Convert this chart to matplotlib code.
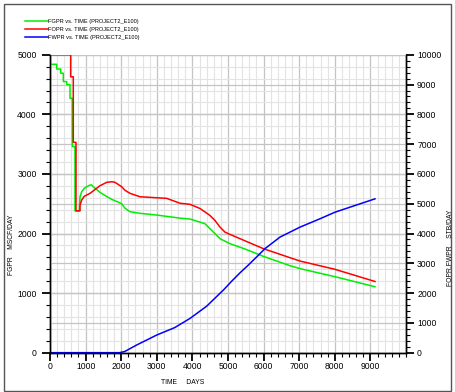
import matplotlib
matplotlib.use("Agg")
import matplotlib.pyplot as plt
from matplotlib.ticker import MultipleLocator
from matplotlib.patches import Rectangle

plt.rcParams['font.family'] = ['Liberation Sans', 'DejaVu Sans']

# FGPR (MSCF/DAY, eje izquierdo) - tiempos repetidos = escalones
fgpr_days = [0, 188, 188, 300, 300, 374, 374, 469, 469, 562, 562, 626, 626, 702, 702,
             823, 843, 890, 963, 1031, 1124, 1171, 1216, 1404, 1593, 1733, 2014, 2107,
             2247, 2528, 2997, 3652, 3933, 4213, 4354, 4494, 4635, 4775, 5056, 5500,
             5992, 6742, 7022, 8006, 9129]
fgpr = [4840, 4840, 4760, 4760, 4690, 4690, 4550, 4550, 4500, 4500, 4270, 4270, 3460, 3460, 2380,
        2380, 2617, 2701, 2760, 2785, 2814, 2814, 2785, 2691, 2620, 2574, 2500, 2423,
        2366, 2339, 2310, 2258, 2243, 2191, 2164, 2080, 1997, 1913, 1829, 1735,
        1617, 1460, 1411, 1275, 1107]

# FOPR (STB/DAY, eje derecho)
fopr_days = [0, 581, 581, 654, 654, 730, 730, 843, 843, 890, 963, 1124, 1404, 1593, 1742,
             1825, 2014, 2107, 2247, 2528, 2997, 3278, 3652, 3933, 4213, 4494, 4635, 4775,
             4916, 5056, 5992, 6742, 7022, 8006, 9129]
fopr = [10000, 10000, 9260, 9260, 7060, 7060, 4760, 4760, 4956, 5124, 5250, 5348, 5604, 5718, 5738,
        5718, 5570, 5450, 5348, 5234, 5200, 5180, 5016, 4980, 4840, 4606, 4438, 4214,
        4046, 3970, 3492, 3188, 3076, 2798, 2390]

# FWPR (STB/DAY, eje derecho)
fwpr_days = [0, 1950, 2100, 2435, 2997, 3500, 3933, 4400, 4868, 5104, 5337, 5570, 5851,
             6039, 6461, 7022, 7584, 8006, 8567, 9129]
fwpr = [0, 0, 40, 258, 592, 840, 1150, 1560, 2100, 2400, 2680, 2940, 3268,
        3492, 3880, 4214, 4495, 4716, 4940, 5164]

x_ticks = list(range(0, 10000, 1000))
left_ticks = list(range(0, 6000, 1000))
right_ticks = list(range(0, 11000, 1000))

fig = plt.figure(figsize=(4.55, 3.92), dpi=100)
ax = fig.add_axes([0.1099, 0.1003, 0.7824, 0.760])
ax2 = ax.twinx()

ax.set_xlim(0, 10000)
ax.set_ylim(0, 5000)
ax2.set_ylim(0, 10000)

ax.set_xticks(x_ticks)
ax.xaxis.set_minor_locator(MultipleLocator(200))
ax.set_yticks(left_ticks)
ax.yaxis.set_minor_locator(MultipleLocator(200))
ax2.set_yticks(right_ticks)
ax2.yaxis.set_minor_locator(MultipleLocator(200))

# rejilla
ax.grid(which='minor', color='#e3e3e3', lw=0.8)
ax.grid(which='major', color='#c4c4c4', lw=0.9)
ax2.grid(which='major', axis='y', color='#c4c4c4', lw=0.9)
ax2.set_axisbelow(True)

for a in (ax, ax2):
    a.spines['top'].set_visible(False)
    for s in ('left', 'right', 'bottom'):
        a.spines[s].set_color('black')
        a.spines[s].set_linewidth(1.0)
    a.tick_params(which='major', direction='out', length=5.5, width=1.3, labelsize=6.2, colors='black')
    a.tick_params(which='minor', direction='out', length=3.2, width=0.8, colors='black')
ax.tick_params(axis='y', which='major', pad=4)
ax.tick_params(axis='x', which='major', pad=1.5)
ax2.tick_params(axis='y', which='major', pad=2.5)

# todas las curvas en ax2 para que queden encima de la rejilla
g, = ax2.plot(fgpr_days, fgpr, color='#00ee00', lw=1.1, transform=ax.transData)
r, = ax2.plot(fopr_days, fopr, color='#ff0000', lw=1.1)
b, = ax2.plot(fwpr_days, fwpr, color='#0000ff', lw=1.1)
ax2.set_ylim(0, 10000)

ax.set_xlabel('TIME     DAYS', fontsize=4.9)
ax.xaxis.set_label_coords(0.3736, -0.087)
ax.set_ylabel('FGPR    MSCF/DAY', fontsize=4.9)
ax.yaxis.set_label_coords(-0.098, 0.361)
ax2.set_ylabel('FOPR,FWPR    STB/DAY', fontsize=4.9)
ax2.yaxis.set_label_coords(1.112, 0.351)

fig.legend([g, r, b],
           ['FGPR vs. TIME (PROJECT2_E100)', 'FOPR vs. TIME (PROJECT2_E100)',
            'FWPR vs. TIME (PROJECT2_E100)'],
           loc='upper left', bbox_to_anchor=(0.055, 0.952), frameon=False, fontsize=4.1,
           handlelength=4.0, handletextpad=0.1, labelspacing=0.5, borderaxespad=0, borderpad=0)

fig.patches.append(Rectangle((4 / 455, 1.3 / 392), 447 / 455, 386.7 / 392, transform=fig.transFigure,
                             fill=False, edgecolor='#555555', lw=1.0))

fig.savefig('out.png', dpi=100)
